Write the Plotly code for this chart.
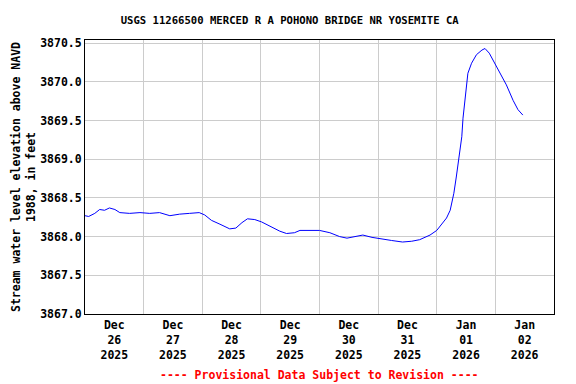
import plotly.graph_objects as go

times = [
    "2025-12-26 00:00", "2025-12-26 01:30", "2025-12-26 04:00", "2025-12-26 06:00",
    "2025-12-26 08:00", "2025-12-26 10:00", "2025-12-26 12:15", "2025-12-26 14:15",
    "2025-12-26 18:15", "2025-12-26 22:30", "2025-12-27 02:30", "2025-12-27 06:30",
    "2025-12-27 10:45", "2025-12-27 14:45", "2025-12-27 18:45", "2025-12-27 22:45",
    "2025-12-28 01:00", "2025-12-28 03:45", "2025-12-28 07:15", "2025-12-28 11:15",
    "2025-12-28 13:45", "2025-12-28 16:15", "2025-12-28 18:30", "2025-12-28 21:30",
    "2025-12-29 00:15", "2025-12-29 03:30", "2025-12-29 07:45", "2025-12-29 10:30",
    "2025-12-29 13:45", "2025-12-29 16:00", "2025-12-29 20:00", "2025-12-30 00:00",
    "2025-12-30 04:15", "2025-12-30 08:15", "2025-12-30 11:15", "2025-12-30 14:30",
    "2025-12-30 17:45", "2025-12-30 21:30", "2025-12-31 00:45", "2025-12-31 05:30",
    "2025-12-31 10:00", "2025-12-31 13:45", "2025-12-31 17:00", "2025-12-31 21:15",
    "2026-01-01 00:00", "2026-01-01 02:30", "2026-01-01 04:00", "2026-01-01 05:30",
    "2026-01-01 07:00", "2026-01-01 08:00", "2026-01-01 09:15", "2026-01-01 10:15",
    "2026-01-01 10:45", "2026-01-01 11:30", "2026-01-01 12:15", "2026-01-01 12:45",
    "2026-01-01 14:15", "2026-01-01 16:15", "2026-01-01 18:30", "2026-01-01 19:45",
    "2026-01-01 21:30", "2026-01-01 23:00", "2026-01-02 02:00", "2026-01-02 04:30",
    "2026-01-02 07:15", "2026-01-02 09:15", "2026-01-02 11:15",
]
elevation = [
    3868.27, 3868.26, 3868.30, 3868.35,
    3868.34, 3868.37, 3868.35, 3868.31,
    3868.30, 3868.31, 3868.30, 3868.31,
    3868.27, 3868.29, 3868.30, 3868.31,
    3868.28, 3868.21, 3868.16, 3868.10,
    3868.11, 3868.18, 3868.23, 3868.22,
    3868.19, 3868.14, 3868.07, 3868.04,
    3868.05, 3868.08, 3868.08, 3868.08,
    3868.05, 3868.00, 3867.98, 3868.00,
    3868.02, 3867.99, 3867.97, 3867.95,
    3867.93, 3867.94, 3867.96, 3868.02,
    3868.08, 3868.18, 3868.24, 3868.34,
    3868.56, 3868.77, 3869.03, 3869.29,
    3869.53, 3869.76, 3869.98, 3870.11,
    3870.24, 3870.35, 3870.41, 3870.43,
    3870.37, 3870.28, 3870.11, 3869.96,
    3869.76, 3869.64, 3869.57,
]

title_text = "USGS 11266500 MERCED R A POHONO BRIDGE NR YOSEMITE CA"
y_title = "Stream water level elevation above NAVD<br>1988, in feet"
footer = "---- Provisional Data Subject to Revision ----"

FONT = "DejaVu Sans Mono"
BOLD = dict(family=FONT, color="black", size=11.5, weight="bold")

fig = go.Figure()
fig.add_trace(go.Scatter(x=times, y=elevation, mode="lines",
                         line=dict(color="#0000FF", width=1), showlegend=False))

fig.update_layout(
    width=576, height=384,
    margin=dict(l=85, r=22, t=40, b=70, autoexpand=False),
    paper_bgcolor="white", plot_bgcolor="white",
    font=BOLD,
    title=dict(text="<b>" + title_text + "</b>", x=0.503, xanchor="center",
               y=0.948, yanchor="middle",
               font=dict(size=10.6, family=FONT, color="black", weight="bold")),
    annotations=[dict(text="<b>" + footer + "</b>", xref="paper", yref="paper",
                      x=0.5, y=-0.223, xanchor="center", yanchor="middle",
                      showarrow=False,
                      font=dict(color="red", size=11.5, family=FONT, weight="bold"))],
)
fig.update_xaxes(
    type="date", range=["2025-12-26", "2026-01-03"],
    dtick=86400000, tick0="2025-12-26", ticklabelmode="period",
    tickformat="%b<br>%d<br>%Y", tickfont=BOLD, automargin=False,
    showgrid=True, gridcolor="#cccccc", gridwidth=1,
    showline=True, linecolor="black", linewidth=1, mirror=True,
    ticks="", zeroline=False,
)
fig.update_yaxes(
    range=[3867.0, 3870.54], dtick=0.5, tick0=3867.0, tickformat=".1f",
    tickfont=BOLD, automargin=False,
    showgrid=True, gridcolor="#cccccc", gridwidth=1,
    showline=True, linecolor="black", linewidth=1, mirror=True,
    ticks="", zeroline=False,
    title=dict(text="<b>" + y_title + "</b>", standoff=2, font=BOLD),
)

fig.write_html("out.html", config={"displayModeBar": False},
               post_script="document.body.style.margin='0';document.body.style.overflow='hidden';")
